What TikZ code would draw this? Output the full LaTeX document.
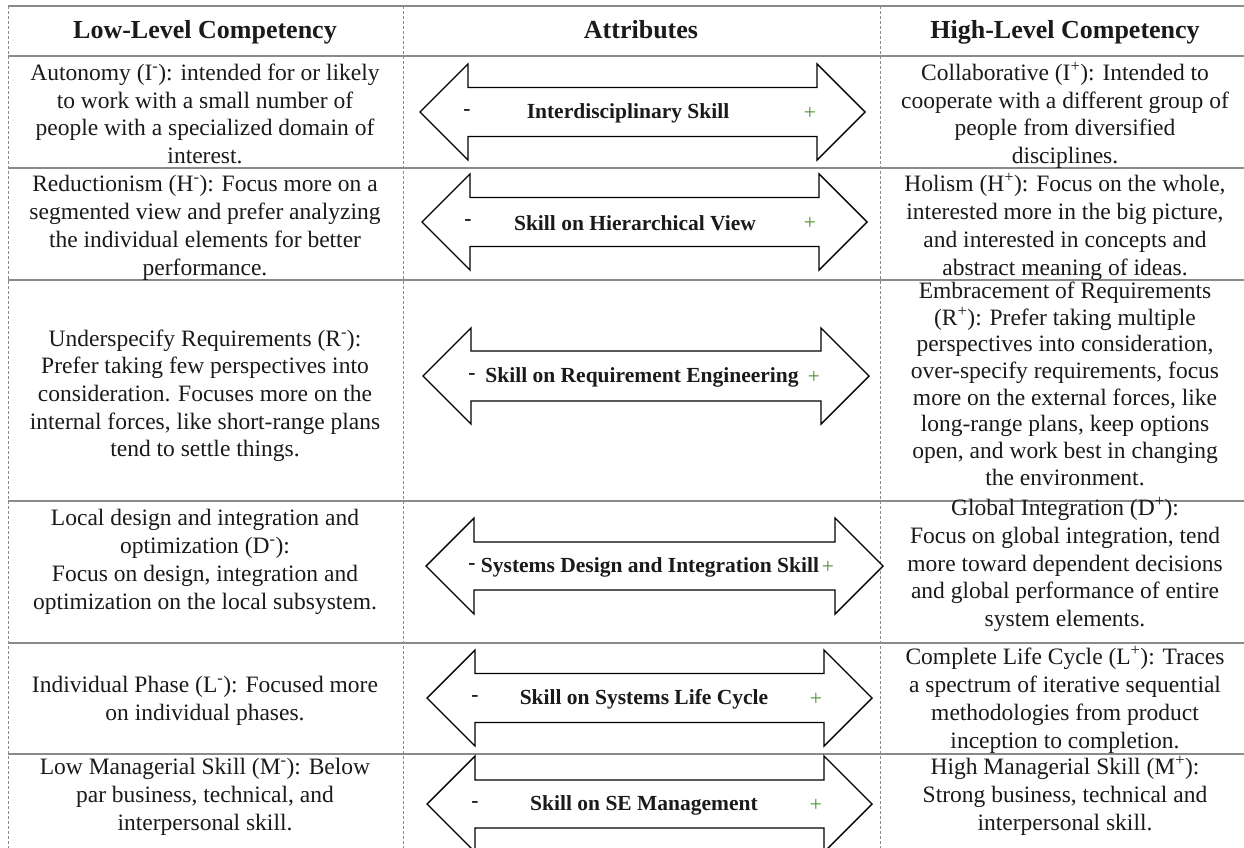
\documentclass[tikz,border=0pt]{standalone}
\usepackage{fontspec}
\setmainfont{Liberation Serif}
\definecolor{rulegray}{HTML}{8A8A8A}
\definecolor{plusgreen}{HTML}{4E8F2E}
\definecolor{ink}{HTML}{1A1A1A}
% double-headed block arrow: left tip x, right tip x, centre y, head reach, shaft half-height
\newcommand\skillarrow[5]{%
  \draw[arrowbody] (#1,#3) -- ({#1+#4},{#3-#4}) -- ({#1+#4},{#3-#5}) -- ({#2-#4},{#3-#5})
    -- ({#2-#4},{#3-#4}) -- (#2,#3) -- ({#2-#4},{#3+#4}) -- ({#2-#4},{#3+#5})
    -- ({#1+#4},{#3+#5}) -- ({#1+#4},{#3+#4}) -- cycle;}
\begin{document}
\begin{tikzpicture}[x=1pt,y=-1pt,
  hrule/.style={draw=rulegray, line width=1.4pt},
  vrule/.style={draw=rulegray, line width=0.9pt, dash pattern=on 3pt off 2pt},
  cell/.style={align=center, inner sep=0pt, text=ink, font=\fontsize{23.5}{27.7}\selectfont},
  tightcell/.style={cell, font=\fontsize{23.5}{26.7}\selectfont},
  headcell/.style={inner sep=0pt, text=ink, font=\fontsize{26}{30}\selectfont\bfseries},
  skill/.style={inner sep=0pt, text=ink, font=\fontsize{21.5}{25}\selectfont\bfseries},
  minus/.style={inner sep=0pt, text=ink, font=\fontsize{21.5}{25}\selectfont\bfseries},
  plus/.style={inner sep=0pt, text=plusgreen, font=\fontsize{21.5}{25}\selectfont},
  arrowbody/.style={draw=black, fill=white, line width=1.4pt, line join=miter}]
\useasboundingbox (0,0) rectangle (1244,848);
\clip (0,0) rectangle (1244,848);
\fill[white] (0,0) rectangle (1244,848);

% table rules
\draw[hrule] (8,6) -- (1260,6);
\foreach \y in {56,168,280,501,643,754} \draw[hrule] (8,\y) -- (1260,\y);
\foreach \x in {8,403,880} \draw[vrule] (\x,6) -- (\x,860);

% column headings
\node[headcell] (hlow)  at (205,33) {\strut Low-Level Competency};
\node[headcell] (hattr) at (641,33) {\strut Attributes};
\node[headcell] (hhigh) at (1065,33) {\strut High-Level Competency};

% attribute arrows
\skillarrow{420}{865}{112}{48}{24.5}
\skillarrow{422}{867}{222}{48}{24.5}
\skillarrow{423}{869}{376}{48}{25}
\skillarrow{426}{883}{566}{48}{24}
\skillarrow{427}{872}{698}{48}{24.5}
\skillarrow{427}{872}{804}{48}{24}

\node[skill] (s1) at (628,113) {Interdisciplinary Skill};
\node[minus] (m1) at (467,113) {-};
\node[plus]  (p1) at (810,113) {+};
\node[skill] (s2) at (635,223) {Skill on Hierarchical View};
\node[minus] (m2) at (468,223) {-};
\node[plus]  (p2) at (810,223) {+};
\node[skill] (s3) at (642,377) {Skill on Requirement Engineering};
\node[minus] (m3) at (472,377) {-};
\node[plus]  (p3) at (814,377) {+};
\node[skill] (s4) at (650,567) {Systems Design and Integration Skill};
\node[minus] (m4) at (472,567) {-};
\node[plus]  (p4) at (828,567) {+};
\node[skill] (s5) at (644,699) {Skill on Systems Life Cycle};
\node[minus] (m5) at (475,699) {-};
\node[plus]  (p5) at (816,699) {+};
\node[skill] (s6) at (644,805) {Skill on SE Management};
\node[minus] (m6) at (475,805) {-};
\node[plus]  (p6) at (816,805) {+};

% low-level competencies
\node[cell] (l1) at (205,116.5) {\strut Autonomy (I\textsuperscript{-}): intended for or likely\\to work with a small number of\\people with a specialized domain of\\interest.\strut};
\node[cell] (l2) at (205,228) {\strut Reductionism (H\textsuperscript{-}): Focus more on a\\segmented view and prefer analyzing\\the individual elements for better\\performance.\strut};
\node[cell] (l3) at (205,396) {\strut Underspecify Requirements (R\textsuperscript{-}):\\Prefer taking few perspectives into\\consideration. Focuses more on the\\internal forces, like short-range plans\\tend to settle things.\strut};
\node[cell] (l4) at (205,562) {\strut Local design and integration and\\optimization (D\textsuperscript{-}):\\Focus on design, integration and\\optimization on the local subsystem.\strut};
\node[cell] (l5) at (205,701) {\strut Individual Phase (L\textsuperscript{-}): Focused more\\on individual phases.\strut};
\node[cell] (l6) at (205,797) {\strut Low Managerial Skill (M\textsuperscript{-}): Below\\par business, technical, and\\interpersonal skill.\strut};

% high-level competencies
\node[cell] (r1) at (1065,116.5) {\strut Collaborative (I\textsuperscript{+}): Intended to\\cooperate with a different group of\\people from diversified\\disciplines.\strut};
\node[cell] (r2) at (1065,228) {\strut Holism (H\textsuperscript{+}): Focus on the whole,\\interested more in the big picture,\\and interested in concepts and\\abstract meaning of ideas.\strut};
\node[tightcell] (r3) at (1065,386.5) {\strut Embracement of Requirements\\(R\textsuperscript{+}): Prefer taking multiple\\perspectives into consideration,\\over-specify requirements, focus\\more on the external forces, like\\long-range plans, keep options\\open, and work best in changing\\the environment.\strut};
\node[cell] (r4) at (1065,565.5) {\strut Global Integration (D\textsuperscript{+}):\\Focus on global integration, tend\\more toward dependent decisions\\and global performance of entire\\system elements.\strut};
\node[cell] (r5) at (1065,701) {\strut Complete Life Cycle (L\textsuperscript{+}): Traces\\a spectrum of iterative sequential\\methodologies from product\\inception to completion.\strut};
\node[cell] (r6) at (1065,797) {\strut High Managerial Skill (M\textsuperscript{+}):\\Strong business, technical and\\interpersonal skill.\strut};
\end{tikzpicture}
\end{document}
